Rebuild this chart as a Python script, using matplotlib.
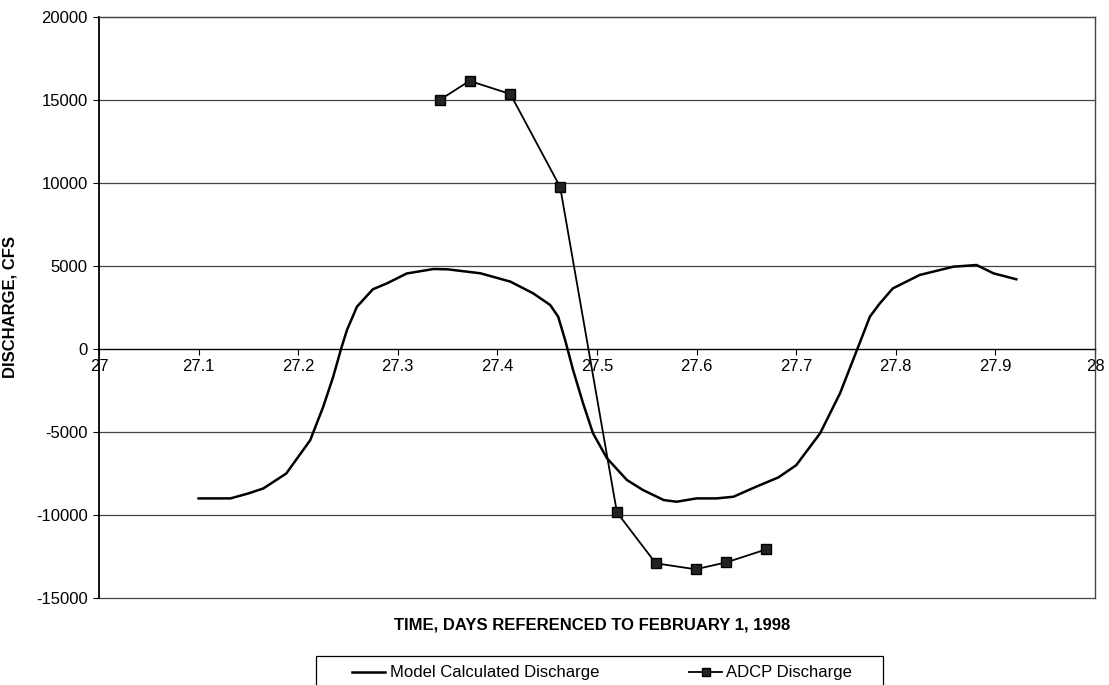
import numpy as np
import matplotlib.pyplot as plt
from matplotlib.ticker import FixedLocator, FixedFormatter
from matplotlib.patches import Rectangle

plt.rcParams['font.family'] = ['Liberation Sans', 'DejaVu Sans']

# model curve
model_t = [27.100, 27.132, 27.150, 27.165, 27.188, 27.212, 27.225, 27.235, 27.243,
           27.249, 27.259, 27.275, 27.289, 27.309, 27.336, 27.350, 27.383, 27.413,
           27.436, 27.453, 27.461, 27.468, 27.476, 27.486, 27.496, 27.510, 27.530,
           27.546, 27.567, 27.580, 27.600, 27.620, 27.637, 27.660, 27.682, 27.700,
           27.724, 27.744, 27.761, 27.774, 27.784, 27.797, 27.824, 27.858, 27.881,
           27.898, 27.921]
model_q = [-9000, -9000, -8700, -8400, -7500, -5500, -3500, -1700, 0,
           1150, 2550, 3600, 3950, 4550, 4820, 4800, 4560, 4060,
           3350, 2650, 1950, 540, -1270, -3270, -5080, -6580, -7890,
           -8490, -9100, -9200, -9000, -9000, -8900, -8290, -7740, -7000,
           -5080, -2670, -60, 1950, 2750, 3650, 4460, 4960, 5060,
           4560, 4200]

# ADCP measurements
adcp_t = [27.342, 27.372, 27.413, 27.463, 27.520, 27.559, 27.599, 27.630, 27.670]
adcp_q = [15000, 16150, 15360, 9760, -9840, -12910, -13270, -12850, -12070]

xticks = [27.0, 27.1, 27.2, 27.3, 27.4, 27.5, 27.6, 27.7, 27.8, 27.9, 28.0]
xlabels = ['27', '27.1', '27.2', '27.3', '27.4', '27.5', '27.6', '27.7', '27.8', '27.9', '28']
yticks = [-15000, -10000, -5000, 0, 5000, 10000, 15000, 20000]

W, H = 1109, 685
fig = plt.figure(figsize=(W / 100, H / 100), dpi=100)
ax = fig.add_axes([99 / W, 1 - 598 / H, 996 / W, 581 / H])

ax.set_xlim(27, 28)
ax.set_ylim(-15000, 20000)

for y in yticks:
    if y != 0:
        ax.axhline(y, color='#444444', lw=0.9, zorder=1, clip_on=False)

l1, = ax.plot(model_t, model_q, color='black', lw=1.8, zorder=3,
              label='Model Calculated Discharge')
l2, = ax.plot(adcp_t, adcp_q, color='black', lw=1.3, marker='s', ms=7,
              mfc='#222222', mec='black', zorder=4, label='ADCP Discharge')

ax.spines['bottom'].set_position(('data', 0))
ax.spines['bottom'].set_linewidth(1.0)
ax.spines['left'].set_linewidth(1.3)
ax.spines['top'].set_color('#444444')
ax.spines['top'].set_linewidth(0.9)
ax.spines['right'].set_color('#444444')
ax.spines['right'].set_linewidth(1.0)

ax.xaxis.set_major_locator(FixedLocator(xticks))
ax.xaxis.set_major_formatter(FixedFormatter(xlabels))
ax.set_yticks(yticks)
ax.set_yticklabels([str(v) for v in yticks])
ax.tick_params(axis='x', direction='out', length=4, width=0.8, pad=3, labelsize=12)
ax.tick_params(axis='y', direction='out', length=4, width=0.8, pad=4, labelsize=12)

ax.set_ylabel('DISCHARGE, CFS', fontsize=12, fontweight='bold')
ax.yaxis.set_label_coords((18 - 99) / 996, 0.5)

fig.text(592 / W, 1 - 625 / H, 'TIME, DAYS REFERENCED TO FEBRUARY 1, 1998',
         ha='center', va='center', fontsize=12, fontweight='bold')

# legend box, cut off by the lower edge as in the original
fig.patches.append(Rectangle((316 / W, 1 - 695 / H), 567 / W, 39 / H,
                             transform=fig.transFigure, fill=False,
                             edgecolor='black', lw=0.9))
fig.legend(handles=[l1, l2], loc='center left', ncol=2,
           bbox_to_anchor=(352 / W, 1 - 673 / H), frameon=False, fontsize=12,
           handlelength=2.0, handletextpad=0.25, columnspacing=5.4,
           borderaxespad=0, borderpad=0, markerscale=0.8)

fig.savefig('out.png', dpi=100)
